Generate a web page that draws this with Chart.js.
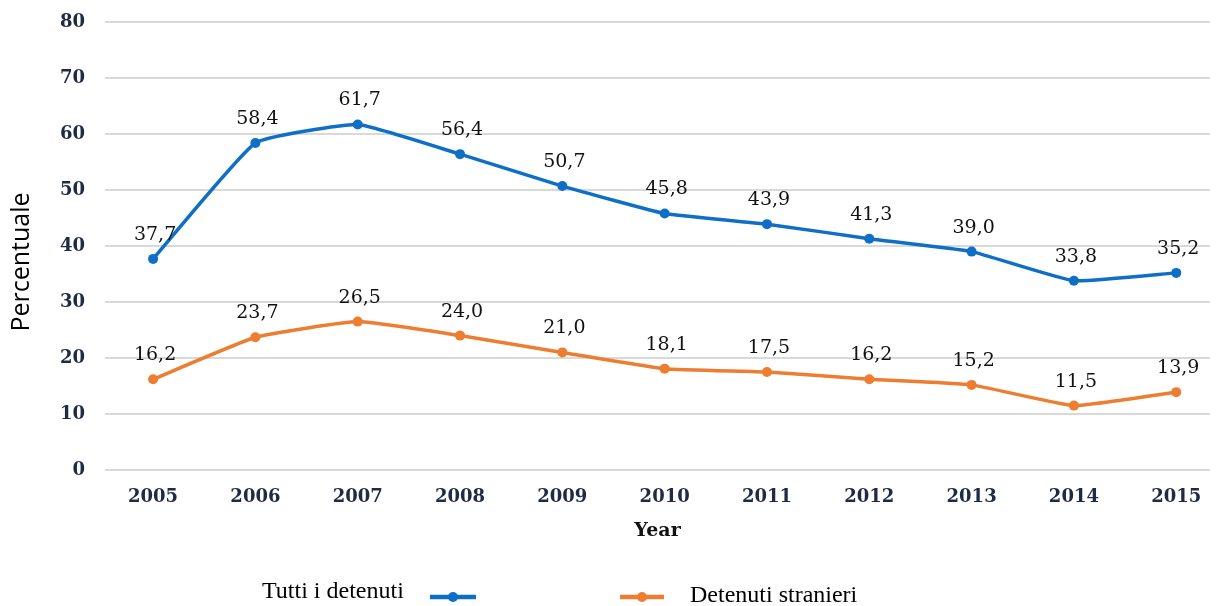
<!DOCTYPE html>
<html lang="it">
<head>
    <meta charset="UTF-8">
    <title>Percentuale detenuti 2005-2015</title>
    <script src="https://cdn.jsdelivr.net/npm/chart.js"></script>
    <style>
        html, body { margin: 0; padding: 0; background: #fff; }
        #wrap { width: 1218px; height: 606px; }
    </style>
</head>
<body>
    <div id="wrap">
        <canvas id="myChart" width="1218" height="606"></canvas>
    </div>
    <script>
        // dati
        const years = [2005, 2006, 2007, 2008, 2009, 2010, 2011, 2012, 2013, 2014, 2015];
        const tuttiDetenuti = [37.7, 58.4, 61.7, 56.4, 50.7, 45.8, 43.9, 41.3, 39.0, 33.8, 35.2];
        const detenutiStranieri = [16.2, 23.7, 26.5, 24.0, 21.0, 18.1, 17.5, 16.2, 15.2, 11.5, 13.9];
        const seriesNames = ['Tutti i detenuti', 'Detenuti stranieri'];
        const yTicks = [0, 10, 20, 30, 40, 50, 60, 70, 80];

        const BLUE = '#0f6fc6';
        const ORANGE = '#ed7d31';
        const TICK_COLOR = '#1f2a44';
        const serif = '"DejaVu Serif", "Liberation Serif", serif';

        const toPoints = (vals) => vals.map((v, i) => ({ x: years[i], y: v }));
        const fmt = (v) => v.toFixed(1).replace('.', ',');

        // etichette dei valori, titolo asse y e legenda
        const extrasPlugin = {
            id: 'extras',
            afterDatasetsDraw(chart) {
                const ctx = chart.ctx;
                ctx.save();
                ctx.font = '19px ' + serif;
                ctx.fillStyle = '#111';
                ctx.textAlign = 'center';
                ctx.textBaseline = 'middle';
                chart.data.datasets.forEach((ds, di) => {
                    chart.getDatasetMeta(di).data.forEach((pt, i) => {
                        ctx.fillText(fmt(ds.data[i].y), pt.x + 2, pt.y - 24);
                    });
                });

                // titolo asse y
                ctx.save();
                ctx.translate(22, 262);
                ctx.rotate(-Math.PI / 2);
                ctx.font = '25px "Open Sans", "Noto Sans", sans-serif';
                ctx.fillStyle = '#000';
                ctx.fillText('Percentuale', 0, 0);
                ctx.restore();

                // legenda
                ctx.font = '24px "Liberation Serif", serif';
                ctx.fillStyle = '#000';
                ctx.textAlign = 'left';
                ctx.fillText(seriesNames[0], 262, 592);
                ctx.fillText(seriesNames[1], 690, 596);
                const marker = (x1, x2, y, color) => {
                    ctx.strokeStyle = color;
                    ctx.lineWidth = 4.5;
                    ctx.beginPath();
                    ctx.moveTo(x1, y);
                    ctx.lineTo(x2, y);
                    ctx.stroke();
                    ctx.fillStyle = color;
                    ctx.beginPath();
                    ctx.arc((x1 + x2) / 2, y, 5, 0, Math.PI * 2);
                    ctx.fill();
                };
                marker(430, 476, 597, BLUE);
                marker(620, 664, 597, ORANGE);
                ctx.restore();
            }
        };

        const ctx = document.getElementById('myChart').getContext('2d');
        const myChart = new Chart(ctx, {
            type: 'line',
            data: {
                datasets: [{
                    label: seriesNames[0],
                    data: toPoints(tuttiDetenuti),
                    borderColor: BLUE,
                    backgroundColor: BLUE,
                    borderWidth: 3.5,
                    pointRadius: 5,
                    pointBorderWidth: 0,
                    tension: 0.12
                }, {
                    label: seriesNames[1],
                    data: toPoints(detenutiStranieri),
                    borderColor: ORANGE,
                    backgroundColor: ORANGE,
                    borderWidth: 3.5,
                    pointRadius: 5,
                    pointBorderWidth: 0,
                    tension: 0.12
                }]
            },
            options: {
                responsive: false,
                animation: false,
                layout: {
                    padding: { top: 22, right: 8, bottom: 56, left: 0 }
                },
                scales: {
                    x: {
                        type: 'linear',
                        min: 2004.53,
                        max: 2015.33,
                        afterBuildTicks: (axis) => {
                            axis.ticks = years.map(v => ({ value: v }));
                        },
                        afterFit: (axis) => { axis.height = 80; },
                        grid: { display: false },
                        border: { display: false },
                        ticks: {
                            padding: 9,
                            color: TICK_COLOR,
                            font: { family: serif, size: 18, weight: 'bold' },
                            callback: (v) => String(v)
                        },
                        title: {
                            display: true,
                            text: 'Year',
                            color: '#111',
                            font: { family: serif, size: 19, weight: 'bold' },
                            padding: { top: 0, bottom: 8 }
                        }
                    },
                    y: {
                        min: 0,
                        max: 80,
                        afterBuildTicks: (axis) => {
                            axis.ticks = yTicks.map(v => ({ value: v }));
                        },
                        afterFit: (axis) => { axis.width = 105; },
                        grid: {
                            color: '#d9d9d9',
                            lineWidth: 2,
                            drawTicks: true,
                            tickLength: 20,
                            tickColor: 'rgba(0,0,0,0)'
                        },
                        border: { display: false },
                        ticks: {
                            padding: 0,
                            color: TICK_COLOR,
                            font: { family: serif, size: 18, weight: 'bold' }
                        }
                    }
                },
                plugins: {
                    legend: { display: false },
                    tooltip: { enabled: false }
                }
            },
            plugins: [extrasPlugin]
        });
    </script>
</body>
</html>
